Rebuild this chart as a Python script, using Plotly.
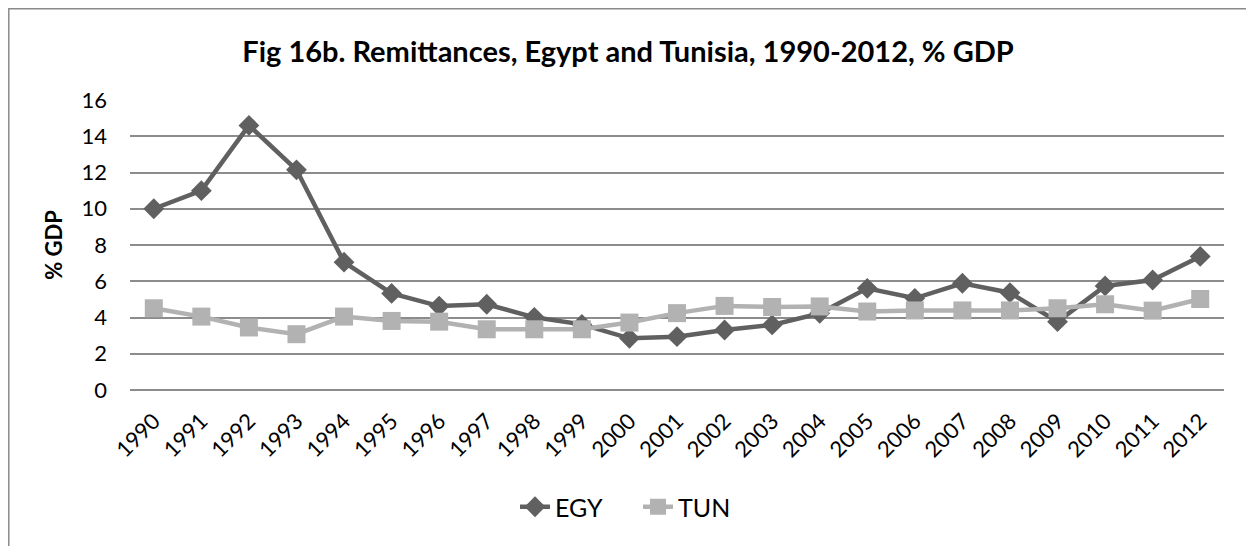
import plotly.graph_objects as go

years = [str(y) for y in range(1990, 2013)]
egy = [10.0, 11.0, 14.6, 12.15, 7.05, 5.33, 4.63, 4.73, 4.01, 3.62, 2.85, 2.94, 3.31, 3.59,
       4.23, 5.61, 5.06, 5.89, 5.37, 3.77, 5.74, 6.07, 7.37]
tun = [4.51, 4.05, 3.45, 3.08, 4.05, 3.81, 3.77, 3.35, 3.35, 3.35, 3.72, 4.24, 4.64, 4.58,
       4.61, 4.33, 4.39, 4.39, 4.39, 4.51, 4.73, 4.38, 5.02]
y_ticks = [0, 2, 4, 6, 8, 10, 12, 14, 16]

FONT = "Lato"
fig = go.Figure()
fig.add_trace(go.Scatter(x=years, y=egy, name="EGY", mode="lines+markers",
                         line=dict(color="#606060", width=4.5),
                         marker=dict(symbol="diamond", size=16, color="#606060")))
fig.add_trace(go.Scatter(x=years, y=tun, name="TUN", mode="lines+markers",
                         line=dict(color="#b2b2b2", width=4.5),
                         marker=dict(symbol="square", size=18, color="#b2b2b2")))

# page body has an 8px margin; work in window coordinates and convert
OFF = 8
W, H = 1254 - OFF, 546 - OFF
L, R, T, B = 130 - OFF, 1254 - 1224, 100 - OFF, 546 - 390
pw, ph = W - L - R, H - T - B

def px(x):
    return (x - OFF - L) / pw

def py(y):
    return (H - B - (y - OFF)) / ph

fig.add_shape(type="rect", xref="paper", yref="paper",
              x0=px(8.8), x1=px(1250), y0=py(600), y1=py(8.8),
              line=dict(color="#8a8a8a", width=1.5), fillcolor="rgba(0,0,0,0)", layer="below")

fig.update_layout(
    width=W, height=H,
    margin=dict(l=L, r=R, t=T, b=B),
    paper_bgcolor="white", plot_bgcolor="white",
    font=dict(family=FONT, size=22, color="black"),
    title=dict(text="<b>Fig 16b. Remittances, Egypt and Tunisia, 1990-2012, % GDP</b>",
               x=(628 - OFF) / W, xref="container", xanchor="center",
               y=1 - (52 - OFF) / H, yref="container", yanchor="middle",
               font=dict(family=FONT, size=29, color="black")),
    showlegend=True,
    legend=dict(orientation="h", x=px(515), xanchor="left", y=py(507), yanchor="middle",
                font=dict(family=FONT, size=25), bgcolor="rgba(0,0,0,0)",
                entrywidth=78, entrywidthmode="pixels"),
    xaxis=dict(type="category", range=[-0.5, 22.5], tickangle=-45, showgrid=False,
               showline=False, ticks="", tickfont=dict(family=FONT, size=22),
               ticklabelstandoff=13),
    yaxis=dict(range=[0, 16], tickvals=y_ticks, showgrid=True, gridcolor="#8c8c8c", gridwidth=1.5,
               zeroline=True, zerolinecolor="#8c8c8c", zerolinewidth=1.5, showline=False,
               ticks="", tickfont=dict(family=FONT, size=22), ticklabelstandoff=22,
               title=dict(text="<b>% GDP</b>", font=dict(family=FONT, size=22), standoff=12)),
)

fig.write_html("out.html")
